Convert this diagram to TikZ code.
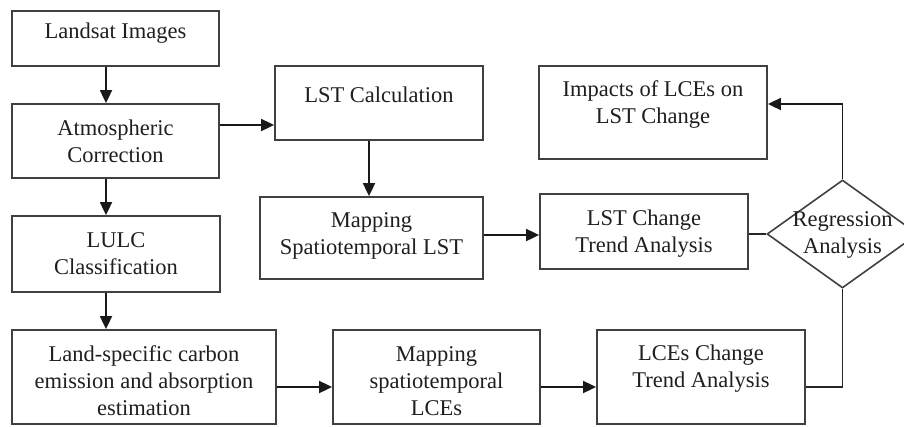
\documentclass[tikz,border=0pt]{standalone}
\usepackage{fontspec}
\setmainfont{Liberation Serif}
\usetikzlibrary{arrows.meta,shapes.geometric,calc}
\begin{document}
\begin{tikzpicture}[x=1pt,y=-1pt,
  box/.style={draw=black!75,line width=1.8pt,rectangle,inner sep=0pt},
  dia/.style={draw=black!75,line width=1.6pt,diamond,inner sep=0pt},
  txt/.style={align=center,font=\fontsize{22.5}{27}\selectfont,text=black!88,inner sep=0pt},
  arr/.style={line width=1.8pt,draw=black!90,-{Triangle[length=13pt,width=12pt]}},
  ln/.style={line width=1.6pt,draw=black!85}]
\clip (0,0) rectangle (904,426);
\fill[white] (0,0) rectangle (904,426);
% boxes
\node[box,minimum width=207pt,minimum height=55pt] (land) at (115.5,38.5) {};
\node[txt] (landT) at ($(land.center)+(0,-5)$) {Landsat Images};
\node[box,minimum width=207pt,minimum height=74pt] (atm) at (115.5,141) {};
\node[txt] (atmT) at (atm.center) {Atmospheric\\Correction};
\node[box,minimum width=208pt,minimum height=76pt] (lulc) at (116,254) {};
\node[txt] (lulcT) at (lulc.center) {LULC\\Classification};
\node[box,minimum width=264pt,minimum height=94pt] (lse) at (144,377) {};
\node[txt] (lseT) at ($(lse.center)+(0,4)$) {Land-specific carbon\\emission and absorption\\estimation};
\node[box,minimum width=208pt,minimum height=74pt] (lstcalc) at (379,103) {};
\node[txt] (lstcalcT) at ($(lstcalc.center)+(0,-8)$) {LST Calculation};
\node[box,minimum width=223pt,minimum height=82pt] (maplst) at (371.5,238) {};
\node[txt] (maplstT) at ($(maplst.center)+(0,-2)$) {Mapping\\Spatiotemporal LST};
\node[box,minimum width=208pt,minimum height=75pt] (lstchange) at (644,231.5) {};
\node[txt] (lstchangeT) at ($(lstchange.center)+(0,2)$) {LST Change\\Trend Analysis};
\node[box,minimum width=228pt,minimum height=93pt] (impacts) at (653,112.5) {};
\node[txt] (impactsT) at ($(impacts.center)+(0,-7.5)$) {Impacts of LCEs on\\LST Change};
\node[box,minimum width=207pt,minimum height=94pt] (maplce) at (436.5,377) {};
\node[txt] (maplceT) at ($(maplce.center)+(0,4)$) {Mapping\\spatiotemporal\\LCEs};
\node[box,minimum width=208pt,minimum height=94pt] (lcechange) at (701,377) {};
\node[txt] (lcechangeT) at ($(lcechange.center)+(0,-8.5)$) {LCEs Change\\Trend Analysis};
\node[dia,minimum width=151pt,minimum height=108pt] (diam) at (842.5,234) {};
\node[txt] (diamT) at ($(diam.center)+(0,1)$) {Regression\\Analysis};
% guide coordinates
\coordinate (colA) at (106,0);
\coordinate (rowA) at (0,125);
\coordinate (colB) at (369,0);
\coordinate (rowB) at (0,235);
\coordinate (rowC) at (0,104);
\coordinate (rowD) at (0,387);
% connectors
\draw[arr] (land.south -| colA) -- (atm.north -| colA);
\draw[arr] (atm.south -| colA) -- (lulc.north -| colA);
\draw[arr] (lulc.south -| colA) -- (lse.north -| colA);
\draw[arr] (atm.east |- rowA) -- (lstcalc.west |- rowA);
\draw[arr] (lstcalc.south -| colB) -- (maplst.north -| colB);
\draw[arr] (maplst.east |- rowB) -- (lstchange.west |- rowB);
\draw[ln] (lstchange.east |- diam.west) -- (diam.west);
\draw[arr] (diam.north) -- (diam.north |- rowC) -- (impacts.east |- rowC);
\draw[arr] (lse.east |- rowD) -- (maplce.west |- rowD);
\draw[arr] (maplce.east |- rowD) -- (lcechange.west |- rowD);
\draw[ln] (lcechange.east |- rowD) -| (diam.south);
\end{tikzpicture}
\end{document}
